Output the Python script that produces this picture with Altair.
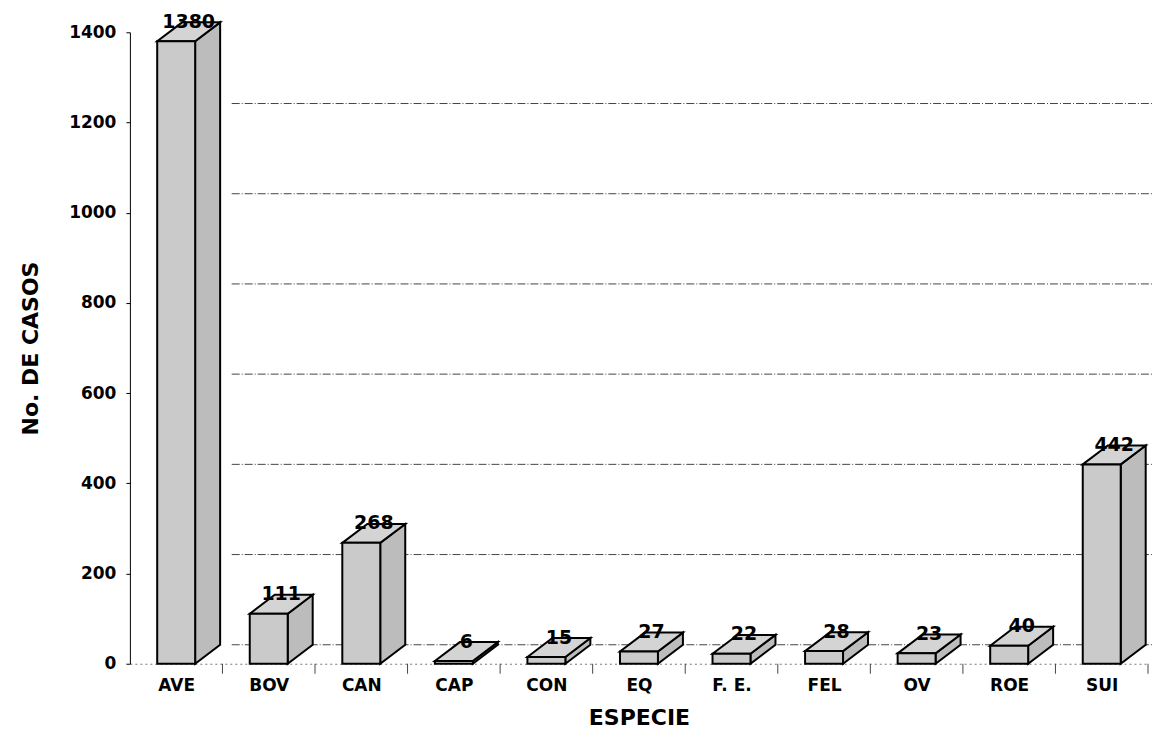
import altair as alt
import pandas as pd

# ---- data ----
categories = ["AVE", "BOV", "CAN", "CAP", "CON", "EQ", "F. E.", "FEL", "OV", "ROE", "SUI"]
casos = [1380, 111, 268, 6, 15, 27, 22, 28, 23, 40, 442]
grid_values = [0, 200, 400, 600, 800, 1000, 1200]
y_ticks = [0, 200, 400, 600, 800, 1000, 1200, 1400]

# ---- 3-D box geometry (in data units of the scales) ----
HALF = 0.205   # half width of a front face (category units)
DX = 0.27      # depth to the right (category units)
DY = 42.0      # depth upward (value units)

front_rows, side_rows, top_rows, label_rows = [], [], [], []
for i, (c, v) in enumerate(zip(categories, casos)):
    xl, xr = i - HALF, i + HALF
    front_rows.append({"cat": c, "xl": xl, "xr": xr, "v": v})
    side_rows += [
        {"cat": c, "x": xr, "y": v, "y2": 0},
        {"cat": c, "x": xr + DX, "y": v + DY, "y2": DY},
    ]
    top_rows += [
        {"cat": c, "x": xl, "y": v, "y2": v},
        {"cat": c, "x": xl + DX, "y": v + DY, "y2": v},
        {"cat": c, "x": xr, "y": v + DY, "y2": v},
        {"cat": c, "x": xr + DX, "y": v + DY, "y2": v + DY},
    ]
    label_rows.append({"cat": c, "x": i + DX / 2, "y": v + DY / 2, "txt": str(v)})

front = pd.DataFrame(front_rows)
side = pd.DataFrame(side_rows)
top = pd.DataFrame(top_rows)
labels = pd.DataFrame(label_rows)
grid = pd.DataFrame({"g": grid_values, "x0": 0.6, "x1": len(categories) - 0.5 + DX + 0.2})
ticks = pd.DataFrame({"b": [k + 0.5 for k in range(len(categories))]})

FONT = "DejaVu Sans"
label_expr = "[" + ",".join("'%s'" % c for c in categories) + "][datum.value]"

xscale = alt.Scale(domain=[-0.5, len(categories) - 0.5], nice=False, zero=False)
yscale = alt.Scale(domain=[0, 1400], nice=False)

xaxis = alt.Axis(
    title="ESPECIE", values=list(range(len(categories))), labelExpr=label_expr,
    grid=False, ticks=False, domainColor="#777777", domainDash=[2, 3], domainWidth=1,
    labelFont=FONT, labelFontSize=17, labelFontWeight="bold", labelColor="black",
    labelPadding=14, titleFont=FONT, titleFontSize=22, titleFontWeight="bold",
    titleColor="black", titlePadding=14,
)
yaxis = alt.Axis(
    title="No. DE CASOS", values=y_ticks, format="d",
    grid=False, tickSize=4, tickColor="black", domainColor="black", domainWidth=1,
    labelFont=FONT, labelFontSize=17, labelFontWeight="bold", labelColor="black",
    labelPadding=10, titleFont=FONT, titleFontSize=22, titleFontWeight="bold",
    titleColor="black", titlePadding=26,
)

gridlines = alt.Chart(grid).mark_rule(
    color="#444444", strokeWidth=1, strokeDash=[8, 2, 1, 2], yOffset=-19, y2Offset=-19
).encode(
    x=alt.X("x0:Q", scale=xscale, axis=xaxis),
    x2="x2:Q",
    y=alt.Y("g:Q", scale=yscale, axis=yaxis),
).transform_calculate(x2="datum.x1")

tickmarks = alt.Chart(ticks).mark_rule(color="#444444", strokeWidth=1, y2Offset=10).encode(
    x=alt.X("b:Q", scale=xscale, axis=xaxis), y=alt.datum(0), y2=alt.datum(0)
)

side_face = alt.Chart(side).mark_area(
    orient="vertical", color="#bcbcbc", stroke="black", strokeWidth=2, opacity=1
).encode(
    x=alt.X("x:Q", scale=xscale, axis=xaxis), y=alt.Y("y:Q", scale=yscale, axis=yaxis),
    y2="y2:Q", detail="cat:N"
)

top_face = alt.Chart(top).mark_area(
    orient="vertical", color="#d4d4d4", stroke="black", strokeWidth=2, opacity=1
).encode(
    x=alt.X("x:Q", scale=xscale, axis=xaxis), y=alt.Y("y:Q", scale=yscale, axis=yaxis),
    y2="y2:Q", detail="cat:N"
)

front_face = alt.Chart(front).mark_bar(
    color="#cacaca", stroke="black", strokeWidth=2
).encode(
    x=alt.X("xl:Q", scale=xscale, axis=xaxis), x2="xr:Q",
    y=alt.Y("v:Q", scale=yscale, axis=yaxis), y2=alt.datum(0)
)

value_text = alt.Chart(labels).mark_text(
    font=FONT, fontSize=19, fontWeight="bold", color="black", baseline="middle", dy=-10
).encode(
    x=alt.X("x:Q", scale=xscale, axis=xaxis), y=alt.Y("y:Q", scale=yscale, axis=yaxis),
    text="txt:N"
)

chart = alt.layer(
    gridlines, tickmarks, side_face, top_face, front_face, value_text
).properties(
    width=1019, height=632,
    autosize=alt.AutoSizeParams(type="none"),
    padding={"left": 122, "top": 24, "right": 5, "bottom": 70},
    view=alt.ViewBackground(stroke="transparent", strokeWidth=0),
).configure_view(strokeWidth=0, stroke="transparent").configure_axis(
    grid=False
).configure(background="white")

chart.save("out.html", embed_options={"renderer": "svg", "actions": False})
